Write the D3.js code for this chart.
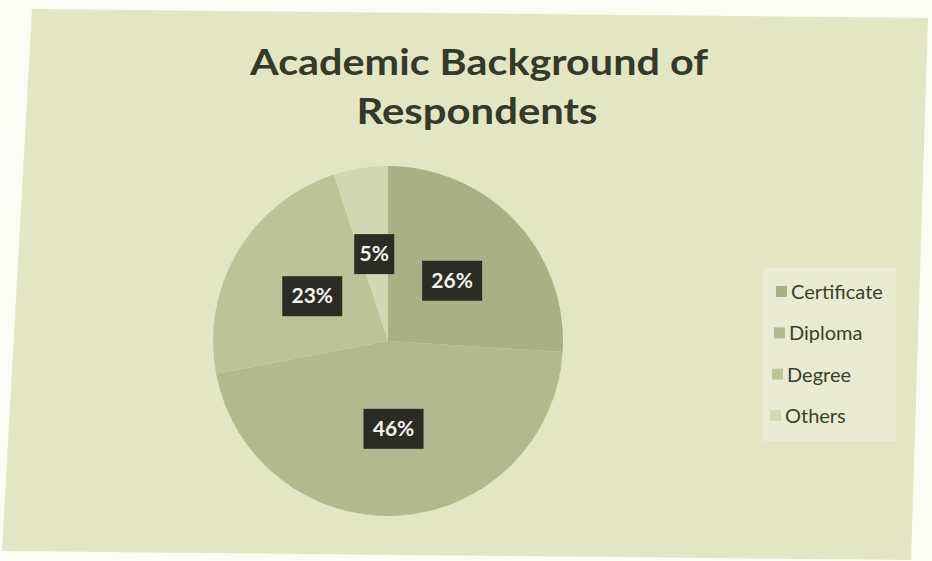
<!DOCTYPE html>
<html><head><meta charset="utf-8">
<script src="https://cdn.jsdelivr.net/npm/d3@7"></script>
<style>html,body{margin:0;padding:0;background:#fbfcf6;}svg{display:block;}</style>
</head><body>
<svg id="chart" width="932" height="561"></svg>
<script>
const categories = ["Certificate", "Diploma", "Degree", "Others"];
const values = [26, 46, 23, 5];
const labels = ["26%", "46%", "23%", "5%"];
const titleLines = ["Academic Background of", "Respondents"];
const colors = ["#a9b085", "#b2b98e", "#bcc399", "#d2d7b3"];

const svg = d3.select("#chart");
const W = 932, H = 561;

// paper / chart area (slightly skewed photo)
svg.append("polygon")
  .attr("points", "32,9 928,18 911,560 2,551")
  .attr("fill", "#e3e6c3");

// title
const title = svg.append("g").attr("font-family", "Lato, 'Open Sans', sans-serif")
  .attr("font-weight", "bold").attr("fill", "#353a28").attr("text-anchor", "middle");
title.append("text").attr("x", 479).attr("y", 75).attr("font-size", 36)
  .attr("textLength", 458).attr("lengthAdjust", "spacingAndGlyphs").text(titleLines[0]);
title.append("text").attr("x", 477).attr("y", 124).attr("font-size", 36)
  .attr("textLength", 241).attr("lengthAdjust", "spacingAndGlyphs").text(titleLines[1]);

// pie
const cx = 388, cy = 341, R = 175;
const pie = d3.pie().sort(null).value(d => d)(values);
const arc = d3.arc().innerRadius(0).outerRadius(R);
const labelArc = d3.arc().innerRadius(88).outerRadius(88);
const color = d3.scaleOrdinal().domain(categories).range(colors);

const g = svg.append("g").attr("transform", `translate(${cx},${cy})`);
g.selectAll("path.slice").data(pie).join("path")
  .attr("class", "slice")
  .attr("d", arc)
  .attr("fill", (d, i) => color(categories[i]));

// labels
const lg = g.selectAll("g.lab").data(pie).join("g").attr("class", "lab")
  .attr("transform", d => { const c = labelArc.centroid(d); return `translate(${c[0]},${c[1]})`; });
lg.append("rect")
  .attr("x", (d, i) => labels[i].length > 2 ? -30 : -20)
  .attr("y", -20)
  .attr("width", (d, i) => labels[i].length > 2 ? 60 : 40)
  .attr("height", 40)
  .attr("fill", "#2b2c24");
lg.append("text").attr("text-anchor", "middle").attr("dy", 7)
  .attr("font-family", "Lato, 'Open Sans', sans-serif").attr("font-weight", "bold")
  .attr("font-size", 21).attr("fill", "#f4f4ee")
  .text((d, i) => labels[i]);

// legend
const leg = svg.append("g");
leg.append("rect").attr("x", 763).attr("y", 268).attr("width", 133).attr("height", 173)
  .attr("fill", "#e9ecd2");
const ly = d3.scalePoint().domain(categories).range([292, 416]);
const li = leg.selectAll("g.li").data(categories).join("g").attr("class", "li")
  .attr("transform", d => `translate(0,${ly(d)})`);
li.append("rect").attr("x", (d, i) => 776 - i * 2).attr("y", -6).attr("width", 11).attr("height", 11)
  .attr("fill", d => color(d));
li.append("text").attr("x", (d, i) => 791 - i * 2).attr("y", 7)
  .attr("font-family", "Lato, 'Open Sans', sans-serif").attr("font-size", 20)
  .attr("fill", "#3a3f2e").text(d => d);
</script>
</body></html>
